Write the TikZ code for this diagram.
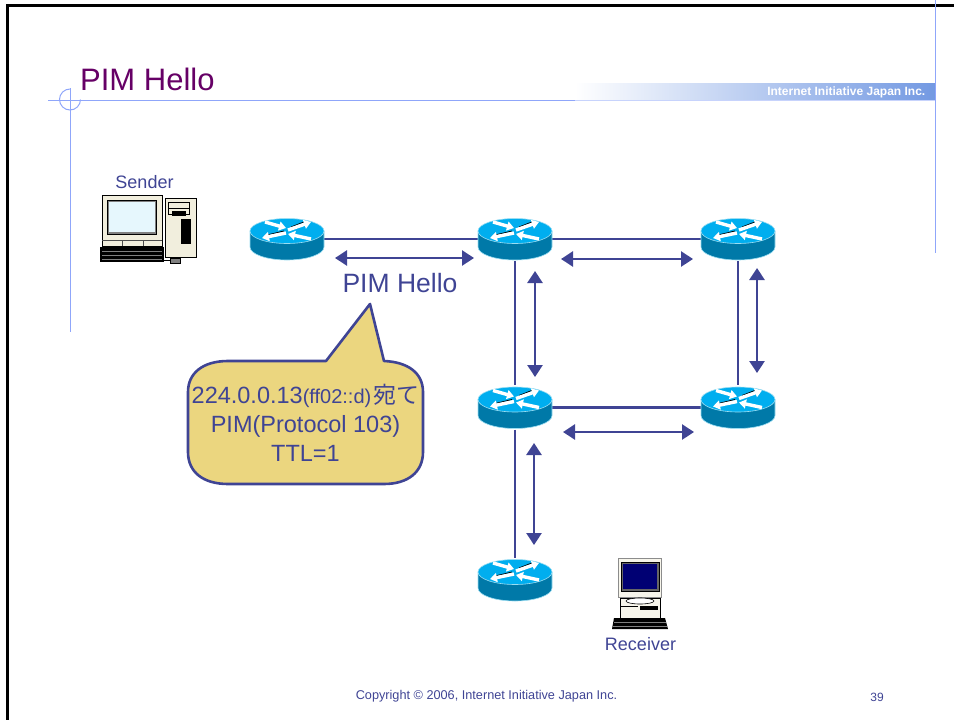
\documentclass[tikz,border=0pt]{standalone}
\usepackage{fontspec}
\setmainfont{Liberation Sans}
\newfontfamily\cjkfont{Noto Sans CJK JP}
\usetikzlibrary{arrows.meta}
\definecolor{inkblue}{HTML}{3F4494}
\definecolor{titlepurple}{HTML}{660066}
\definecolor{ruleblue}{HTML}{8FA6FA}
\definecolor{barblue}{HTML}{7399E2}
\definecolor{notefill}{HTML}{EBD67F}
\definecolor{routertop}{HTML}{00AEEF}
\definecolor{routerside}{HTML}{0079A8}
\definecolor{routeredge}{HTML}{9ADDF2}
\definecolor{pcbeige}{HTML}{F1EEDD}
\newcommand{\fs}[2]{\fontsize{#1}{#2}\selectfont}
\begin{document}
\begin{tikzpicture}[x=1pt,y=-1pt]
    \tikzset{>={Triangle[length=12pt,width=15pt]},
      routerbox/.style={minimum width=74pt,minimum height=44pt,inner sep=0pt},
      link/.style={inkblue,line width=2.8pt},
      flow/.style={inkblue,line width=2.8pt,<->},
      rulethin/.style={ruleblue,line width=1pt},
      caption/.style={inkblue,inner sep=0pt},
      case/.style={draw=black,line width=.8pt,fill=pcbeige},
      turn/.style={white,line width=3.4pt,-{Triangle[length=7pt,width=9pt]}},
      router/.pic={
        \path[fill=routerside,draw=routeredge,line width=.6pt]
          (-37,-8) -- (-37,8) arc[start angle=180,end angle=0,x radius=37,y radius=13]
          -- (37,-8) -- cycle;
        \path[fill=routertop,draw=routeredge,line width=.6pt]
          (0,-8) ellipse[x radius=37,y radius=12.5];
        \draw[black,line width=.8pt] (-22,-3.5) -- (-3,-8) (4,-12) -- (18,-17.5);
        \draw[turn] (-22,-17) -- (-1,-11);
        \draw[turn] (1,-9) -- (24,-17);
        \draw[turn] (-1,-6) -- (-25,-1);
        \draw[turn] (24,0) -- (1,-5);
      }};
    \useasboundingbox (0,0) rectangle (954,720);
    \draw[black,line width=2.5pt] (7.5,720) -- (7.5,5.5) -- (954,5.5);
    \shade[left color=white,right color=barblue] (575,83) rectangle (935,100);
    \draw[rulethin] (48,100) -- (575,100);
    \draw[ruleblue!50,line width=1pt] (575,100.5) -- (935,100.5);
    \draw[rulethin] (70,88) -- (70,332);
    \draw[rulethin] (935,0) -- (935,253);
    \draw[rulethin] (70,89) arc[start angle=270,end angle=0,radius=10.5];
    \node[anchor=base west,inner sep=0pt,titlepurple,font=\fs{31}{31}] (Title) at (80,90) {PIM Hello};
    \node[anchor=base east,inner sep=0pt,white,font=\bfseries\fs{12}{12}] (Company) at (925.5,95) {Internet Initiative Japan Inc.};

    \node[routerbox] (R1) at (287,239) {};
    \node[routerbox] (R2) at (515,239) {};
    \node[routerbox] (R3) at (738,239) {};
    \node[routerbox] (R4) at (515,407.5) {};
    \node[routerbox] (R5) at (738,407.5) {};
    \node[routerbox] (R6) at (515,580) {};
    \draw[link] (R1) -- (R2);
    \draw[link] (R2) -- (R3);
    \draw[link] (R2) -- (R4);
    \draw[link] (R3) -- (R5);
    \draw[link] (R4) -- (R5);
    \draw[link] (R4) -- (R6);
    \foreach \r in {R1,R2,R3,R4,R5,R6}
      \pic at (\r) {router};

    \coordinate (A1) at (335,258);
    \coordinate (A2) at (474,258);
    \coordinate (B1) at (561,259);
    \coordinate (B2) at (693,259);
    \coordinate (C1) at (535,271);
    \coordinate (C2) at (535,377);
    \coordinate (D1) at (757,268);
    \coordinate (D2) at (757,373);
    \coordinate (E1) at (563,432);
    \coordinate (E2) at (694,432);
    \coordinate (F1) at (534,443);
    \coordinate (F2) at (534,545);
    \draw[flow] (A1) -- (A2);
    \draw[flow] (B1) -- (B2);
    \draw[flow] (C1) -- (C2);
    \draw[flow] (D1) -- (D2);
    \draw[flow] (E1) -- (E2);
    \draw[flow] (F1) -- (F2);

    \node[caption,font=\fs{26.5}{26.5}] (Hello) at (400,283) {PIM Hello};
    \draw[inkblue,line width=2.6pt,fill=notefill,line join=round]
      (326,361) -- (370,304) -- (384,361)
      .. controls (408,362) and (423,373) .. (423,392) -- (423,452)
      .. controls (423,472) and (408,484) .. (384,484) -- (228,484)
      .. controls (203,484) and (188,472) .. (188,452) -- (188,392)
      .. controls (188,373) and (203,361) .. (228,361) -- cycle;
    \node[caption,align=center,font=\fs{23.5}{29}] (Note) at (305.5,423)
      {224.0.0.13{\fs{20}{29}(ff02::d)}\kern2pt{\cjkfont\fs{23}{29}宛て}\\PIM(Protocol 103)\\TTL=1};

    \node[caption,font=\fs{18}{18}] (Sender) at (144.5,182) {Sender};
    \draw[case] (102,195) rectangle (162,246);
    \draw[black,fill=gray,line width=.8pt] (107,200) rectangle (156,234);
    \fill[cyan!10!white] (109,202) rectangle (155,232);
    \draw[black!70,line width=.6pt] (122,240) -- (122,246) (143,240) -- (143,246) (102,240) -- (162,240);
    \draw[case] (165,198) rectangle (196,257);
    \draw[black,line width=.7pt] (168,202) rectangle (189,208) (168,208) rectangle (189,214);
    \fill[black] (181,219) rectangle (191,244);
    \fill[black] (172,211) rectangle (186,216);
    \fill[black] (100,247) rectangle (164,262);
    \draw[gray,line width=.5pt] (102,251) -- (162,251) (102,255) -- (162,255) (102,259) -- (162,259);
    \draw[black,line width=.8pt] (164,260) -- (170,260);
    \draw[black,fill=gray,line width=.7pt] (170,258) rectangle (180,263);

    \fill[black!45] (618,558) rectangle (662,598);
    \fill[pcbeige!60!white] (619,559) rectangle (661,597);
    \draw[black,fill=black!60,line width=.5pt] (621,562) rectangle (659,591);
    \fill[blue!45!black] (623,564) rectangle (657,589);
    \draw[black,fill=pcbeige!60!white,line width=.7pt] (620,598) -- (660,598) -- (660,618) -- (620,618) -- cycle;
    \draw[black,fill=white,line width=.6pt] (640,601) ellipse[x radius=14,y radius=3];
    \fill[black] (640,606) rectangle (658,610);
    \draw[black,line width=.6pt] (620,606) -- (638,606);
    \fill[black] (614,618) -- (665,618) -- (668,629) -- (612,629) -- cycle;
    \draw[gray,line width=.5pt] (614,622) -- (666,622) (613,626) -- (667,626);
    \node[caption,font=\fs{18}{18}] (Receiver) at (640.5,644) {Receiver};

    \node[caption,font=\fs{12.7}{12.7}] (Copyright) at (486.5,696) {Copyright © 2006, Internet Initiative Japan Inc.};
    \node[caption,font=\fs{12}{12}] (Page) at (877,697) {39};
  \end{tikzpicture}
\end{document}
